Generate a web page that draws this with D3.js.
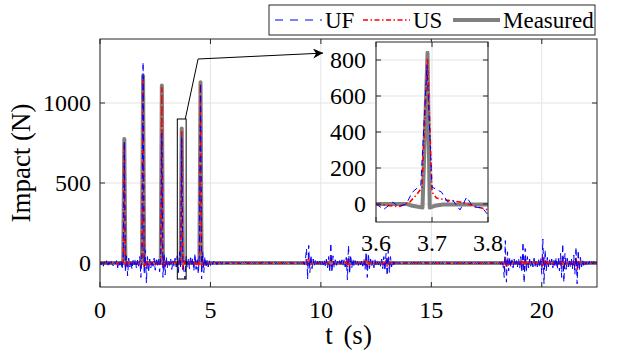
<!DOCTYPE html>
<html>
<head>
<meta charset="utf-8">
<script src="https://cdn.jsdelivr.net/npm/d3@7"></script>
<style>
  body { margin: 0; background: #fff; }
</style>
</head>
<body>
<div id="chart"></div>
<script>
// sample step of the UF / US records (s)
let dt = 0.05

// UF estimate, one row per second
let ufValues = [
  5,-12,8,-20,10,-6,14,-25,6,-10,12,-8,-18,9,-5,15,-30,10,-14,20,
  -40,35,760,-60,45,-80,30,-25,15,-40,20,-10,25,-35,18,-20,40,-90,60,1255,
  -70,80,-125,40,-60,25,-30,15,-20,30,-45,20,-15,35,-55,50,810,-90,60,-75,
  40,-30,20,-15,25,-40,15,-20,30,-25,45,-60,70,-35,790,20,-50,-100,40,-30,
  25,-35,45,-20,30,-50,60,-40,20,-70,55,1120,-100,70,-60,40,-30,20,-25,15,
  -15,10,-8,12,-6,5,-10,8,-4,6,-8,5,-3,7,-5,4,-6,3,-4,5,
  3,-5,4,-3,6,-4,2,-5,3,-2,4,-3,5,-4,3,-2,4,-3,2,-4,
  3,-2,4,-5,2,-3,5,-2,3,-4,2,-3,4,-2,3,-5,2,-3,4,-2,
  3,-4,2,-3,5,-2,4,-3,2,-4,3,-2,4,-3,2,-5,3,-2,4,-3,
  2,-3,4,-5,8,-10,20,90,-100,110,-60,50,-35,25,-20,15,-12,10,-15,12,
  -10,15,-12,20,-18,25,-30,40,-60,125,-60,45,-30,20,-15,10,-12,15,-18,20,
  -15,20,-25,35,-105,110,-70,50,-30,25,-20,15,-10,12,-15,10,-12,15,-20,25,
  -40,70,-90,60,-35,25,-20,15,-30,20,-15,10,-12,15,-20,25,-35,40,-50,60,
  -80,80,-60,40,-25,15,-10,8,-6,5,-4,3,-5,4,-3,2,-4,3,-2,4,
  3,-5,4,-3,6,-4,2,-5,3,-2,4,-3,5,-4,3,-2,4,-3,2,-4,
  3,-2,4,-5,2,-3,5,-2,3,-4,2,-3,4,-2,3,-5,2,-3,4,-2,
  3,-4,2,-3,5,-2,4,-3,2,-4,3,-2,4,-3,2,-5,3,-2,4,-3,
  2,-3,4,-5,3,-2,4,-3,2,-4,3,-2,5,-3,2,-4,3,-2,4,-3,
  3,-4,5,-8,12,-15,-90,140,-120,70,-50,35,-25,20,-30,25,-20,15,-25,30,
  -35,40,-60,130,-125,90,-60,40,-30,25,-20,18,-25,30,-20,15,-25,20,-30,35,
  -70,150,-130,80,-50,35,-25,20,-15,25,-30,20,-25,35,-40,30,-50,60,-90,120,
  -120,60,-40,30,-25,20,-30,25,-40,50,-70,100,-130,80,-50,35,-25,20,-15,12,
  -10,12,-8,10,-12,8,-6,10,-8,5,0
]

// US estimate, same sampling
let usValues = [
  2,-3,4,-5,3,-2,5,-6,3,-2,4,-3,-5,3,-2,4,-8,3,-4,5,
  -10,8,755,-25,12,-20,8,-6,4,-10,5,-3,6,-8,4,-5,10,-25,15,1160,
  -20,25,-35,10,-15,6,-8,4,-5,8,-12,5,-4,8,-15,12,1095,-25,15,-20,
  10,-8,5,-4,6,-10,4,-5,8,-6,12,-15,20,-8,820,-40,15,-10,8,-5,
  6,-10,12,-5,8,-15,18,-10,5,-20,15,1125,-30,20,-15,10,-8,5,-6,4,
  -4,3,-2,3,-2,1,-3,2,-1,2,-2,1,-1,2,-1,1,-2,1,-1,1,
  1,-2,1,-1,2,-1,1,-2,1,-1,2,-1,1,-1,2,-1,1,-2,1,-1,
  1,-1,2,-1,1,-2,1,-1,2,-1,1,-1,2,-1,1,-2,1,-1,2,-1,
  1,-2,1,-1,2,-1,1,-2,1,-1,2,-1,1,-1,2,-1,1,-2,1,-1,
  0,-1,1,-2,2,-3,5,25,-20,30,-15,10,-8,6,-5,4,-3,2,-4,3,
  -2,4,-3,5,-4,6,-8,10,-20,35,-15,10,-8,5,-4,3,-3,4,-5,6,
  -4,5,-6,8,-25,35,-20,12,-8,6,-5,4,-3,3,-4,3,-3,4,-5,6,
  -10,30,-25,15,-10,6,-5,4,-8,5,-4,3,-3,4,-5,6,-8,10,-12,15,
  -20,35,-15,10,-6,4,-3,2,-2,1,-1,1,-1,1,-1,1,-1,1,-1,1,
  1,-2,1,-1,2,-1,1,-2,1,-1,2,-1,1,-1,2,-1,1,-2,1,-1,
  1,-1,2,-1,1,-2,1,-1,2,-1,1,-1,2,-1,1,-2,1,-1,2,-1,
  1,-2,1,-1,2,-1,1,-2,1,-1,2,-1,1,-1,2,-1,1,-2,1,-1,
  1,-1,2,-1,1,-2,1,-1,2,-1,1,-1,2,-1,1,-2,1,-1,2,-1,
  1,-1,2,-2,3,-4,-25,40,-30,18,-12,8,-6,5,-8,6,-5,4,-6,8,
  -8,10,-15,40,-35,22,-15,10,-8,6,-5,4,-6,8,-5,4,-6,5,-8,10,
  -18,45,-35,20,-12,8,-6,5,-4,6,-8,5,-6,8,-10,8,-12,15,-22,35,
  -35,15,-10,8,-6,5,-8,6,-10,12,-18,30,-40,20,-12,8,-6,5,-4,3,
  -3,3,-2,2,-3,2,-1,2,-2,1,0
]

// measured impacts [t (s), N]
let measured = [
  [0,0],[1.05,0],[1.1,775],[1.15,0],[1.9,0],[1.95,1170],[2.0,0],
  [2.75,0],[2.8,1110],[2.85,0],[3.65,0],[3.7,840],[3.75,0],
  [4.5,0],[4.55,1130],[4.6,0],[22.5,0]
]

// zoomed record around the 4th impact
let insetMeasured = [
  [3.6,0],[3.655,0],[3.665,-10],[3.683,-20],[3.692,840],[3.696,-20],
  [3.705,-10],[3.72,-3],[3.8,-3]
]
let insetUS = [
  [3.6,0],[3.614,-5],[3.64,-15],[3.66,10],[3.672,50],[3.682,90],[3.692,810],
  [3.7,66],[3.708,33],[3.725,22],[3.75,11],[3.77,-5],[3.8,-33]
]
let insetUF = [
  [3.6,0],[3.614,-30],[3.63,10],[3.641,-15],[3.654,0],[3.665,66],[3.68,105],
  [3.691,770],[3.7,94],[3.717,66],[3.728,11],[3.737,22],[3.75,-33],
  [3.762,38],[3.773,-16],[3.79,-22],[3.8,-60]
]

let xTicks = [0, 5, 10, 15, 20]
let yTicks = [0, 500, 1000]
let insetXTicks = [3.6, 3.7, 3.8]
let insetYTicks = [0, 200, 400, 600, 800]

// zoom box and arrow, in data units of the main axes
let zoomBox = {t0: 3.5, t1: 3.9, f0: -100, f1: 900}
let arrowPts = [[3.86, 900], [4.44, 1275], [10.1, 1312]]

let series = [
  {name: 'UF', color: '#0000ff', width: 1, dash: '6,4'},
  {name: 'US', color: '#ff0000', width: 1.6, dash: '5,2.5,1.5,2.5'},
  {name: 'Measured', color: '#808080', width: 4, dash: null}
]

let width = 619, height = 355
let frame = '#262626', gridColor = '#e3e3e3'

let svg = d3.select('#chart').append('svg')
    .attr('width', width)
    .attr('height', height)
    .style('display', 'block')

let x = d3.scaleLinear().domain([0, 22.5]).range([100, 597])
let y = d3.scaleLinear().domain([-150, 1400]).range([287, 39])

let ufPts = ufValues.map((v, i) => [i * dt, v])
let usPts = usValues.map((v, i) => [i * dt, v])

function drawAxes(g, xs, ys, xt, yt, clipId, lines) {
  let [x0, x1] = xs.range()
  let [y1, y0] = ys.range()

  g.append('rect')
      .attr('x', x0).attr('y', y0)
      .attr('width', x1 - x0).attr('height', y1 - y0)
      .attr('fill', '#fff')

  g.append('clipPath').attr('id', clipId)
    .append('rect')
      .attr('x', x0).attr('y', y0)
      .attr('width', x1 - x0).attr('height', y1 - y0)

  // grid
  g.append('g').selectAll('line').data(xt).enter().append('line')
      .attr('x1', d => xs(d)).attr('x2', d => xs(d))
      .attr('y1', y0).attr('y2', y1)
      .attr('stroke', gridColor)
  g.append('g').selectAll('line').data(yt).enter().append('line')
      .attr('x1', x0).attr('x2', x1)
      .attr('y1', d => ys(d)).attr('y2', d => ys(d))
      .attr('stroke', gridColor)

  let line = d3.line().x(d => xs(d[0])).y(d => ys(d[1]))
  let body = g.append('g').attr('clip-path', `url(#${clipId})`)
  lines.forEach(l => {
    body.append('path')
        .attr('d', line(l.data))
        .attr('fill', 'none')
        .attr('stroke', l.s.color)
        .attr('stroke-width', l.s.width)
        .attr('stroke-dasharray', l.s.dash)
        .attr('stroke-linejoin', 'round')
        .attr('stroke-linecap', l.s.dash ? 'butt' : 'round')
  })

  // inward ticks on all sides
  let tl = 5
  let ticks = g.append('g').attr('stroke', frame)
  xt.forEach(d => {
    ticks.append('line').attr('x1', xs(d)).attr('x2', xs(d)).attr('y1', y1).attr('y2', y1 - tl)
    ticks.append('line').attr('x1', xs(d)).attr('x2', xs(d)).attr('y1', y0).attr('y2', y0 + tl)
  })
  yt.forEach(d => {
    ticks.append('line').attr('x1', x0).attr('x2', x0 + tl).attr('y1', ys(d)).attr('y2', ys(d))
    ticks.append('line').attr('x1', x1).attr('x2', x1 - tl).attr('y1', ys(d)).attr('y2', ys(d))
  })

  g.append('rect')
      .attr('x', x0).attr('y', y0)
      .attr('width', x1 - x0).attr('height', y1 - y0)
      .attr('fill', 'none')
      .attr('stroke', frame)
}

let main = svg.append('g')
drawAxes(main, x, y, xTicks, yTicks, 'clipMain', [
  {data: measured, s: series[2]},
  {data: usPts, s: series[1]},
  {data: ufPts, s: series[0]}
])

main.append('g').selectAll('text').data(xTicks).enter().append('text')
    .attr('x', d => x(d))
    .attr('y', 318)
    .attr('text-anchor', 'middle')
    .attr('font-size', 24)
    .text(d => d)
main.append('g').selectAll('text').data(yTicks).enter().append('text')
    .attr('x', 91)
    .attr('y', d => y(d) + 8)
    .attr('text-anchor', 'end')
    .attr('font-size', 24)
    .text(d => d)

main.append('text')
    .attr('x', x(11.25))
    .attr('y', 344)
    .attr('text-anchor', 'middle')
    .attr('font-size', 27)
    .attr('word-spacing', 4)
    .text('t (s)')
main.append('text')
    .attr('transform', `translate(30,163) rotate(-90)`)
    .attr('text-anchor', 'middle')
    .attr('font-size', 27)
    .text('Impact (N)')

// zoom box + arrow
main.append('rect')
    .attr('x', x(zoomBox.t0)).attr('y', y(zoomBox.f1))
    .attr('width', x(zoomBox.t1) - x(zoomBox.t0))
    .attr('height', y(zoomBox.f0) - y(zoomBox.f1))
    .attr('fill', 'none')
    .attr('stroke', '#000')

svg.append('defs').append('marker')
    .attr('id', 'head')
    .attr('viewBox', '0 0 10 10')
    .attr('refX', 10).attr('refY', 5)
    .attr('markerWidth', 15).attr('markerHeight', 10)
    .attr('markerUnits', 'userSpaceOnUse')
    .attr('orient', 'auto')
  .append('path')
    .attr('d', 'M0,0 L10,5 L0,10 L3,5 Z')
    .attr('fill', '#000')

main.append('path')
    .attr('d', d3.line().x(d => x(d[0])).y(d => y(d[1]))(arrowPts))
    .attr('fill', 'none')
    .attr('stroke', '#000')
    .attr('marker-end', 'url(#head)')

// inset
let ix = d3.scaleLinear().domain([3.6, 3.8]).range([376, 488])
let iy = d3.scaleLinear().domain([-100, 900]).range([222, 42])
let inset = svg.append('g')
drawAxes(inset, ix, iy, insetXTicks, insetYTicks, 'clipInset', [
  {data: insetMeasured, s: series[2]},
  {data: insetUS, s: series[1]},
  {data: insetUF, s: series[0]}
])
inset.append('g').selectAll('text').data(insetXTicks).enter().append('text')
    .attr('x', d => ix(d))
    .attr('y', 251)
    .attr('text-anchor', 'middle')
    .attr('font-size', 24)
    .text(d => d3.format('.1f')(d))
inset.append('g').selectAll('text').data(insetYTicks).enter().append('text')
    .attr('x', 366)
    .attr('y', d => iy(d) + 8)
    .attr('text-anchor', 'end')
    .attr('font-size', 24)
    .text(d => d)

// legend
let legend = svg.append('g')
legend.append('rect')
    .attr('x', 269).attr('y', 5)
    .attr('width', 326).attr('height', 30)
    .attr('fill', '#fff')
    .attr('stroke', frame)
let legX = [275, 363, 453]
series.forEach((s, i) => {
  legend.append('line')
      .attr('x1', legX[i]).attr('x2', legX[i] + 47)
      .attr('y1', 20).attr('y2', 20)
      .attr('stroke', s.color)
      .attr('stroke-width', s.width)
      .attr('stroke-dasharray', s.name == 'UF' ? '8,7' : s.dash)
  legend.append('text')
      .attr('x', legX[i] + 50)
      .attr('y', 28)
      .attr('font-size', 23)
      .text(s.name)
})

// serif everywhere, set on each text node
svg.selectAll('text').style('font-family', 'Liberation Serif')
</script>
</body>
</html>
